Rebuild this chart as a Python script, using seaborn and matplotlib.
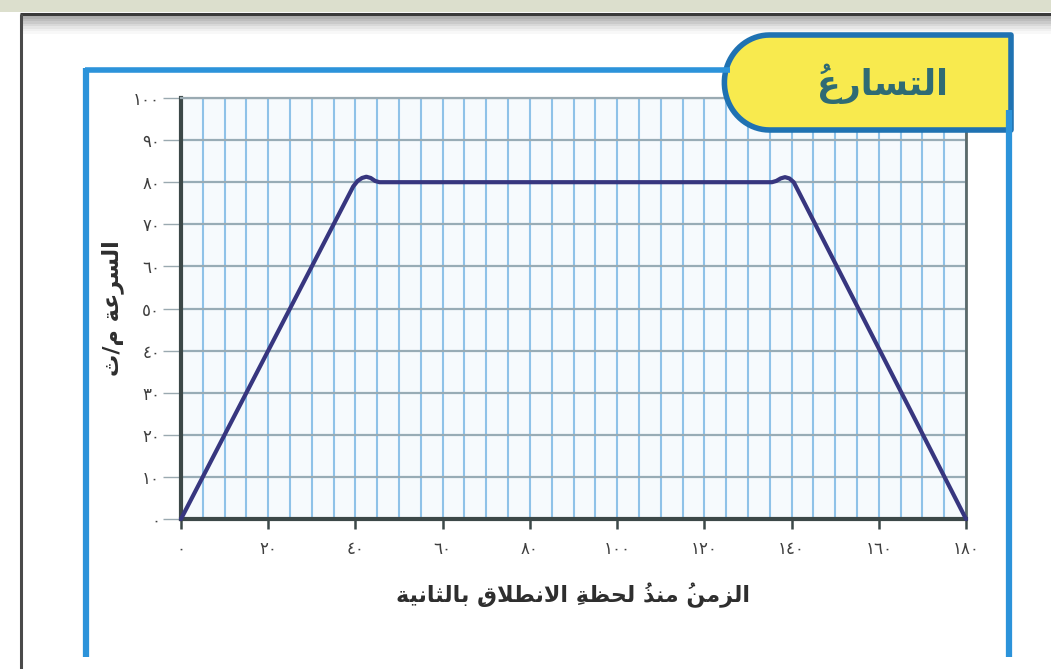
import numpy as np
import matplotlib
matplotlib.use("Agg")
import matplotlib.pyplot as plt
import seaborn as sns
from matplotlib.patches import Rectangle, PathPatch
from matplotlib.lines import Line2D
from matplotlib.path import Path
from matplotlib.transforms import IdentityTransform

# speed-time readings (s, m/s)
time_s = [0, 39.5, 40.5, 41.5, 42.5, 43.5, 44.5, 45.5, 135.5, 136.5, 137.5, 138.5, 139.5, 140.5, 141.5, 180]
speed_ms = [0, 79, 80.3, 81.0, 81.3, 81.0, 80.3, 80, 80, 80.3, 80.9, 81.2, 80.9, 80.0, 78, 0]

x_ticks = [0, 20, 40, 60, 80, 100, 120, 140, 160, 180]
x_tick_labels = ['٠', '٢٠', '٤٠', '٦٠', '٨٠', '١٠٠', '١٢٠', '١٤٠', '١٦٠', '١٨٠']
y_ticks = [0, 10, 20, 30, 40, 50, 60, 70, 80, 90, 100]
y_tick_labels = ['٠', '١٠', '٢٠', '٣٠', '٤٠', '٥٠', '٦٠', '٧٠', '٨٠', '٩٠', '١٠٠']

title_text = 'التسارعُ'
x_label = 'الزمنُ منذُ لحظةِ الانطلاقِ بالثانية'
y_label = 'السرعة م/ث'

# --- tiny arabic shaper: matplotlib has no joining / RTL, so pick presentation forms
AR_FORMS = {
    'ا': (0xFE8D, 0xFE8E, None, None),
    'ب': (0xFE8F, 0xFE90, 0xFE91, 0xFE92),
    'ة': (0xFE93, 0xFE94, None, None),
    'ت': (0xFE95, 0xFE96, 0xFE97, 0xFE98),
    'ث': (0xFE99, 0xFE9A, 0xFE9B, 0xFE9C),
    'ح': (0xFEA1, 0xFEA2, 0xFEA3, 0xFEA4),
    'ذ': (0xFEAB, 0xFEAC, None, None),
    'ر': (0xFEAD, 0xFEAE, None, None),
    'ز': (0xFEAF, 0xFEB0, None, None),
    'س': (0xFEB1, 0xFEB2, 0xFEB3, 0xFEB4),
    'ط': (0xFEC1, 0xFEC2, 0xFEC3, 0xFEC4),
    'ظ': (0xFEC5, 0xFEC6, 0xFEC7, 0xFEC8),
    'ع': (0xFEC9, 0xFECA, 0xFECB, 0xFECC),
    'ق': (0xFED5, 0xFED6, 0xFED7, 0xFED8),
    'ل': (0xFEDD, 0xFEDE, 0xFEDF, 0xFEE0),
    'م': (0xFEE1, 0xFEE2, 0xFEE3, 0xFEE4),
    'ن': (0xFEE5, 0xFEE6, 0xFEE7, 0xFEE8),
    'ي': (0xFEF1, 0xFEF2, 0xFEF3, 0xFEF4),
    'لا': (0xFEFB, 0xFEFC, None, None),
}
MARKS = set('\u064b\u064c\u064d\u064e\u064f\u0650\u0651\u0652')


def shape_ar(text):
    clusters = []
    for ch in text:
        if ch in MARKS and clusters:
            clusters[-1][1] += ch
        elif ch == 'ا' and clusters and clusters[-1][0] == 'ل' and not clusters[-1][1]:
            clusters[-1][0] = 'لا'
        else:
            clusters.append([ch, ''])
    out = []
    for i, (base, marks) in enumerate(clusters):
        forms = AR_FORMS.get(base)
        if forms is None:
            out.append(marks + base)
            continue
        prev = clusters[i - 1][0] if i > 0 else None
        nxt = clusters[i + 1][0] if i + 1 < len(clusters) else None
        jp = prev in AR_FORMS and AR_FORMS[prev][2] is not None
        jn = forms[2] is not None and nxt in AR_FORMS
        if jp and jn:
            c = forms[3]
        elif jp:
            c = forms[1]
        elif jn:
            c = forms[2]
        else:
            c = forms[0]
        # zero-width mark goes first so it lands over its own letter
        out.append(marks + chr(c))
    return ''.join(reversed(out))


sns.set_theme(style="white")
plt.rcParams['font.family'] = ['DejaVu Sans']

W, H = 1051, 669
fig, ax = plt.subplots(figsize=(W / 100, H / 100), dpi=100)
fig.patch.set_facecolor('white')
fig.subplots_adjust(left=181 / W, right=966 / W, bottom=1 - 519 / H, top=1 - 98 / H)

idt = IdentityTransform()


def hline(x0, x1, y, color, lw):
    fig.add_artist(Line2D([x0, x1], [H - y, H - y], color=color, lw=lw, transform=idt,
                          solid_capstyle='butt'))


def vline(x, y0, y1, color, lw):
    fig.add_artist(Line2D([x, x], [H - y0, H - y1], color=color, lw=lw, transform=idt,
                          solid_capstyle='butt'))


# scanned page edge at the top
fig.add_artist(Rectangle((0, H - 12), W, 12, color='#dcdfcd', transform=idt, lw=0))
for i, g in enumerate(['#b0b0b0', '#bdbdbd', '#cacaca', '#d8d8d8', '#e5e5e5', '#f0f0f0', '#f8f8f8']):
    fig.add_artist(Rectangle((20, H - 16 - 2.5 * (i + 1)), W - 20, 2.5, color=g, transform=idt, lw=0))
hline(20, W, 14, '#3a3a3a', 2.2)
vline(21, 14, H, '#4a4a4a', 2.2)

# blue frame
frame_blue = '#2c93da'
hline(85, 730, 70, frame_blue, 4)
vline(86, 68, 657, frame_blue, 4.5)
vline(1009, 110, 657, frame_blue, 4.5)

# title tab, rounded on the left
x0, x1, top, bot = 722, 1011, 35, 130
r = (bot - top) / 2
cx, cy = x0 + r, H - (top + bot) / 2
verts = [(cx, H - top), (x1, H - top), (x1, H - bot)] + \
        [(cx + 0.95 * r * np.cos(a), cy + r * np.sin(a)) for a in np.linspace(3 * np.pi / 2, np.pi / 2, 40)]
verts.append(verts[0])
codes = [Path.MOVETO] + [Path.LINETO] * (len(verts) - 2) + [Path.CLOSEPOLY]
fig.add_artist(PathPatch(Path(verts, codes), facecolor='#f8ea4e', edgecolor='#1f72b2', lw=4,
                         transform=idt, joinstyle='round'))
fig.text(882 / W, 1 - 84 / H, shape_ar(title_text), ha='center', va='center', fontsize=25,
         fontweight='bold', color='#2f6b74')

# chart
ax.set_facecolor('#f6fafd')
sns.lineplot(x=time_s, y=speed_ms, sort=False, color='#37367f', linewidth=3.0, ax=ax,
             zorder=5, clip_on=False, solid_capstyle='round', solid_joinstyle='round')
ax.set_xlim(0, 180)
ax.set_ylim(0, 100)

ax.set_xticks(x_ticks)
ax.set_xticklabels(x_tick_labels)
ax.set_xticks(np.arange(0, 181, 5), minor=True)
ax.set_yticks(y_ticks)
ax.set_yticklabels(y_tick_labels)

ax.grid(which='both', axis='x', color='#8fc2e8', lw=1.5)
ax.grid(which='major', axis='y', color='#98acb6', lw=1.6)
ax.set_axisbelow(True)

ax.tick_params(axis='x', which='major', bottom=True, length=7, width=1.8, color='#3c4848',
               pad=8, labelsize=12, labelcolor='#3e3e3e')
ax.tick_params(axis='y', which='major', left=True, length=13, width=1, color='#9aa9b0',
               pad=2, labelsize=12, labelcolor='#3e3e3e')
ax.tick_params(which='minor', length=0)

ax.spines['left'].set_color('#3c4848')
ax.spines['left'].set_linewidth(3)
ax.spines['bottom'].set_color('#3c4848')
ax.spines['bottom'].set_linewidth(3)
ax.spines['right'].set_color('#5c6a6a')
ax.spines['right'].set_linewidth(2)
ax.spines['top'].set_color('#9aaab2')
ax.spines['top'].set_linewidth(1.6)

ax.set_xlabel(shape_ar(x_label), fontsize=16, fontweight='bold', color='#2e2e2e')
ax.xaxis.set_label_coords(0.5, -0.152)
ax.set_ylabel(shape_ar(y_label), fontsize=16, fontweight='bold', color='#2e2e2e')
ax.yaxis.set_label_coords(-0.073, 0.5)

fig.savefig('out.png', dpi=100)
